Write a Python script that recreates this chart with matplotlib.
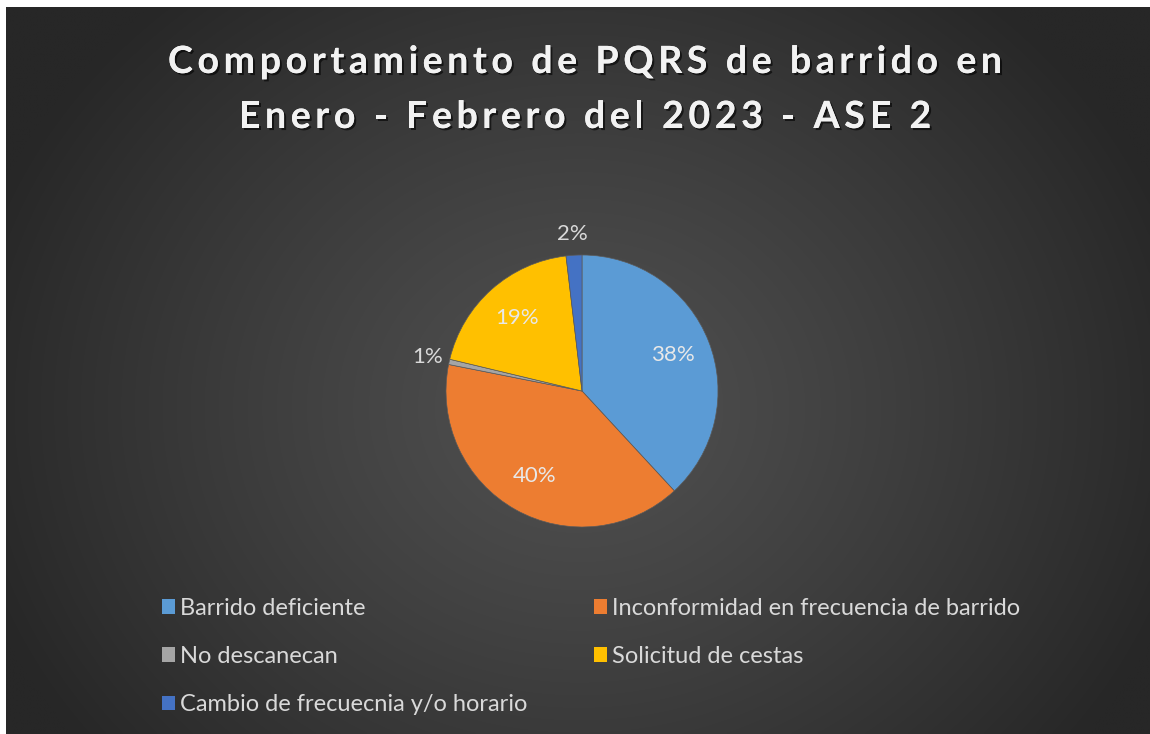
import numpy as np
import matplotlib
matplotlib.use("Agg")
import matplotlib.pyplot as plt
from matplotlib.patches import Patch
import matplotlib.patheffects as pe

# ---- data ----
categories = ["Barrido deficiente",
              "Inconformidad en frecuencia de barrido",
              "No descanecan",
              "Solicitud de cestas",
              "Cambio de frecuecnia y/o horario"]
counts = [61, 64, 1, 31, 3]
colors = ["#5B9BD5", "#ED7D31", "#A5A5A5", "#FFC000", "#4472C4"]
title_lines = ["Comportamiento de PQRS de barrido en",
               "Enero - Febrero del 2023 - ASE 2"]

W, H = 1150, 734
FONT = "Lato"
fig = plt.figure(figsize=(W / 100, H / 100), dpi=100, facecolor="white")

# background with radial gradient
bg = fig.add_axes([6 / W, 0, 1 - 6 / W, 1 - 7 / H])
bg.set_axis_off()
ny, nx = 300, 470
yy, xx = np.mgrid[0:ny, 0:nx]
cx, cy = nx * 0.50, ny * 0.55
r = np.sqrt(((xx - cx) / (nx * 0.55)) ** 2 + ((yy - cy) / (ny * 0.75)) ** 2)
r = np.clip(r, 0, 1)
inner, outer = 0x50, 0x27
val = (inner + (outer - inner) * r ** 1.2) / 255.0
img = np.dstack([val, val, val])
bg.imshow(img, aspect="auto", extent=[0, 1, 0, 1], interpolation="bilinear")
bg.set_xlim(0, 1)
bg.set_ylim(0, 1)

# title with letter spacing
renderer = fig.canvas.get_renderer()
shadow = [pe.withSimplePatchShadow(offset=(1.5, -1.5), shadow_rgbFace="black", alpha=0.6), pe.Normal()]
tkw = dict(fontsize=27, fontweight="bold", family=FONT)


def text_w(s):
    t = fig.text(0, 0, s, **tkw)
    w = t.get_window_extent(renderer).width
    t.remove()
    return w


ref_w = text_w("I")
line1_w = text_w(title_lines[0])
spacing = (834 - line1_w) / (len(title_lines[0]) - 1)
for i, line in enumerate(title_lines):
    total_w = text_w(line) + spacing * (len(line) - 1)
    x0 = 585 - total_w / 2
    ypix = H - (62 + 55 * i)
    for k, ch in enumerate(line):
        if ch == " ":
            continue
        off = (text_w(line[:k] + "I") - ref_w) if k > 0 else 0
        fig.text((x0 + off + spacing * k) / W, ypix / H, ch, ha="left", va="center",
                 color="#f2f2f2", path_effects=shadow, **tkw)

# pie
cxp, cyp, rad = 582, 391, 136
ax = fig.add_axes([(cxp - rad) / W, (H - cyp - rad) / H, 2 * rad / W, 2 * rad / H])
total = sum(counts)
wedges, texts, autotexts = ax.pie(
    counts, colors=colors, startangle=90, counterclock=False,
    autopct=lambda p: f"{p:.0f}%", pctdistance=0.72,
    wedgeprops=dict(linewidth=0.5, edgecolor="#5a5a5a"),
    textprops=dict(color="#e8e8e8", fontsize=16, family=FONT))
ax.set_xlim(-1, 1)
ax.set_ylim(-1, 1)
ax.set_aspect("equal")
ax.set_axis_off()
for w, t, c in zip(wedges, autotexts, counts):
    if c / total < 0.05:
        ang = np.deg2rad((w.theta1 + w.theta2) / 2)
        t.set_position((1.16 * np.cos(ang), 1.16 * np.sin(ang)))
        t.set_color("#d9d9d9")
        t.set_clip_on(False)

# legend (row-wise order -> reorder for column-major fill)
handles = [Patch(facecolor=c, edgecolor="none") for c in colors]
order = [0, 2, 4, 1, 3]
leg = fig.legend([handles[i] for i in order], [categories[i] for i in order],
                 ncol=2, loc="upper left", bbox_to_anchor=(150 / W, 1 - 586 / H),
                 frameon=False, labelcolor="#d9d9d9",
                 prop=dict(family=FONT, size=17),
                 handlelength=0.55, handleheight=0.55, handletextpad=0.2,
                 labelspacing=1.15, columnspacing=2.85, borderpad=0)

fig.savefig("out.png", dpi=100, facecolor=fig.get_facecolor())
